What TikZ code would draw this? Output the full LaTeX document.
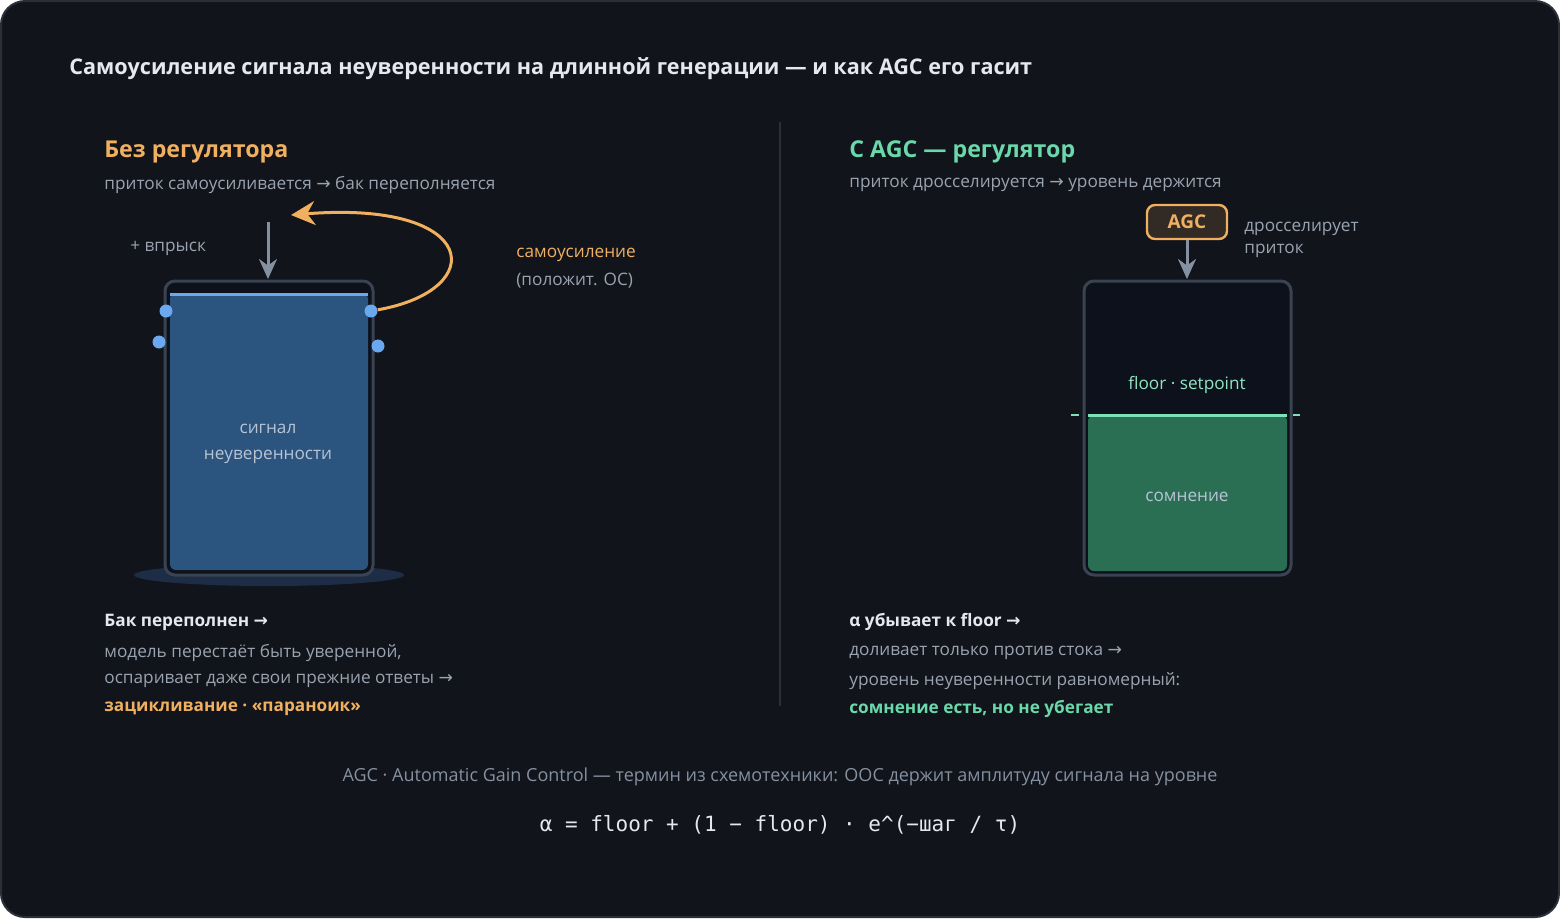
\documentclass[tikz,border=0pt]{standalone}
\usepackage{fontspec}
\setmainfont{Open Sans}
\newfontfamily\monof{DejaVu Sans Mono}
\newfontfamily\djv{DejaVu Sans}
\newcommand{\arr}{{\djv →}}
\usetikzlibrary{arrows.meta}
\definecolor{bg}{HTML}{11141B}
\definecolor{frame}{HTML}{2A2F3A}
\definecolor{titc}{HTML}{E6E8EE}
\definecolor{greyt}{HTML}{9AA3B0}
\definecolor{orng}{HTML}{F0B060}
\definecolor{grn}{HTML}{6AD8AA}
\definecolor{tankst}{HTML}{3A4352}
\definecolor{tankin}{HTML}{0C111B}
\definecolor{bluef}{HTML}{2B547E}
\definecolor{bluel}{HTML}{6AA8F0}
\definecolor{arrg}{HTML}{8590A0}
\definecolor{labt}{HTML}{B8C4D4}
\definecolor{grnf}{HTML}{2A6E54}
\definecolor{grnl}{HTML}{7EE0B8}
\definecolor{shad}{HTML}{1C2D45}
\tikzset{
 txt/.style={font=\fontsize{8.6}{10}\selectfont, text=greyt, anchor=west, inner sep=0},
 btxt/.style={font=\fontsize{8.6}{10}\selectfont\bfseries, text=titc, anchor=west, inner sep=0},
 head/.style={font=\fontsize{11.6}{14}\selectfont\bfseries, anchor=west, inner sep=0},
 tank/.style={draw=tankst, line width=1.5pt, fill=tankin, rounded corners=5pt},
 dot/.style={circle, fill=bluel, minimum size=6.5pt, inner sep=0},
 inflow/.style={draw=arrg, line width=1.5pt, -{Stealth[length=10pt,width=9pt]}},
}
\begin{document}
\begin{tikzpicture}[x=0.5pt,y=-0.5pt]
\fill[white] (0,0) rectangle (1560,918);
\useasboundingbox (0,0) rectangle (1560,918);
\draw[fill=bg, draw=frame, line width=1pt, rounded corners=12pt] (1,1) rectangle (1559,917);
\node[font=\fontsize{10.8}{12}\selectfont\bfseries, text=titc, anchor=west, inner sep=0] (title) at (69,69) {Самоусиление сигнала неуверенности на длинной генерации — и как AGC его гасит};
\draw[frame, line width=1pt] (780,122) -- (780,706);
% left
\node[head, text=orng] (lh) at (104,152) {Без регулятора};
\node[txt] (ls) at (104,185) {приток самоусиливается \arr{} бак переполняется};
\fill[shad] (269,575) ellipse [x radius=135, y radius=11];
\draw[tank] (165,281) rectangle (373,575);
\fill[bluef, rounded corners=3pt] (170,293) rectangle (368,570);
\draw[bluel, line width=1.5pt] (170,294) -- (368,294);
\node[dot] (d1) at (166,311) {};
\node[dot] (d2) at (159,342) {};
\node[dot] (d3) at (371,311) {};
\node[dot] (d4) at (378,346) {};
\coordinate (inA) at (268,222);
\coordinate (inB) at (268,279);
\draw[inflow] (inA) -- (inB);
\node[txt] (inj) at (130,248) {+ впрыск};
\coordinate (loopEnd) at (291,215);
\draw[orng, line width=1.5pt, -{Stealth[length=12pt,width=12pt]}] (d3) .. controls (490,290) and (480,200) .. (loopEnd);
\node[txt, text=orng] (ls1) at (516,255) {самоусиление};
\node[txt] (ls2) at (516,281) {(положит. ОС)};
\node[font=\fontsize{8.6}{13}\selectfont, text=labt, align=center] (sig) at (268,444) {сигнал\\неуверенности};
\node[btxt] (lb1) at (104,622) {Бак переполнен \arr};
\node[txt] (lb2) at (104,653) {модель перестаёт быть уверенной,};
\node[txt] (lb3) at (104,681) {оспаривает даже свои прежние ответы \arr};
\node[btxt, text=orng] (lb4) at (104,709) {зацикливание · «параноик»};
% right
\node[head, text=grn] (rh) at (849,152) {С AGC — регулятор};
\node[txt] (rs) at (849,185) {приток дросселируется \arr{} уровень держится};
\node[draw=orng, line width=1.2pt, fill=orng!15!bg, rounded corners=4pt, minimum width=40pt, minimum height=17pt, inner sep=0, font=\fontsize{9.5}{11}\selectfont\bfseries, text=orng] (agc) at (1187,222) {AGC};
\node[txt] (dr1) at (1244,229) {дросселирует};
\node[txt] (dr2) at (1244,251) {приток};
\draw[tank] (1084,281) rectangle (1291,575);
\fill[grnf, rounded corners=3pt] (1088,415) rectangle (1287,571);
\draw[grnl, line width=1.5pt] (1088,415) -- (1287,415);
\draw[grnl, line width=1pt] (1071,415) -- (1079,415);
\draw[grnl, line width=1pt] (1293,415) -- (1300,415);
\coordinate (tankR) at (1187,279);
\draw[inflow] (agc) -- (tankR);
\node[font=\fontsize{8.6}{10}\selectfont, text=grnl!85!white] (fs) at (1187,385) {floor · setpoint};
\node[font=\fontsize{8.6}{10}\selectfont, text=labt] (som) at (1187,497) {сомнение};
\node[btxt] (rb1) at (849,622) {α убывает к floor \arr};
\node[txt] (rb2) at (849,653) {доливает только против стока \arr};
\node[txt] (rb3) at (849,681) {уровень неуверенности равномерный:};
\node[btxt, text=grn] (rb4) at (849,709) {сомнение есть, но не убегает};
% footer
\node[font=\fontsize{9}{11}\selectfont, text=arrg] (foot) at (780,777) {AGC · Automatic Gain Control — термин из схемотехники: ООС держит амплитуду сигнала на уровне};
\node[font=\monof\fontsize{10.5}{12}\selectfont, text=titc] (form) at (780,825) {α = floor + (1 − floor) · e\^{}(−шаг / τ)};
\end{tikzpicture}
\end{document}
